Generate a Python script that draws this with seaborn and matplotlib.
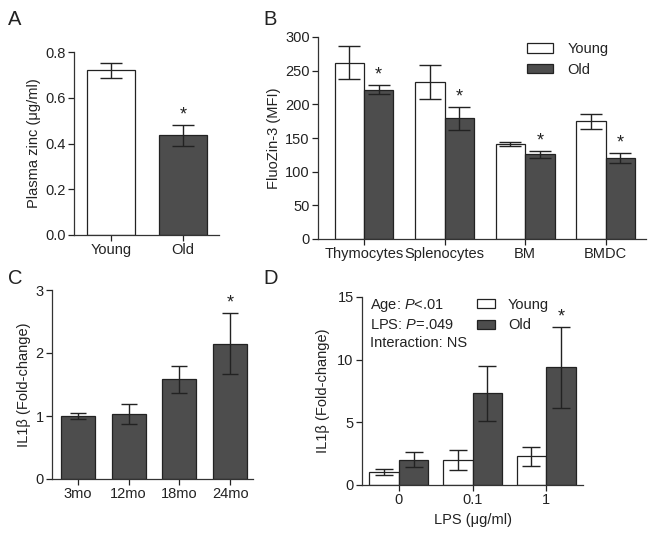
import numpy as np
import pandas as pd
import matplotlib
matplotlib.use("Agg")
import matplotlib.pyplot as plt
import seaborn as sns
from matplotlib.patches import Patch

# ---------------- data ----------------
A_groups = ["Young", "Old"]
A_mean = [0.72, 0.435]
A_err = [0.033, 0.047]

B_cells = ["Thymocytes", "Splenocytes", "BM", "BMDC"]
B_young = [262, 233, 141, 175]
B_young_err = [24, 25, 3, 11]
B_old = [222, 179, 125.5, 120.5]
B_old_err = [7, 17, 5, 7.5]

C_ages = ["3mo", "12mo", "18mo", "24mo"]
C_mean = [1.0, 1.03, 1.58, 2.15]
C_err = [0.055, 0.16, 0.215, 0.49]

D_lps = ["0", "0.1", "1"]
D_young = [1.0, 2.0, 2.29]
D_young_err = [0.24, 0.82, 0.78]
D_old = [2.0, 7.33, 9.38]
D_old_err = [0.6, 2.2, 3.2]

# ---------------- style ----------------
sns.set_theme(style="ticks")
plt.rcParams["font.family"] = ["Liberation Sans", "DejaVu Sans"]
plt.rcParams["mathtext.fontset"] = "custom"
plt.rcParams["mathtext.it"] = "Liberation Sans:italic"
plt.rcParams["mathtext.rm"] = "Liberation Sans"
FS = 10.5
TXT = "#222222"
DARK = "#4d4d4d"
plt.rcParams.update({
    "axes.linewidth": 0.9,
    "xtick.major.width": 0.9, "ytick.major.width": 0.9,
    "xtick.major.size": 4, "ytick.major.size": 4,
    "xtick.labelsize": FS, "ytick.labelsize": FS,
    "axes.labelsize": FS,
    "text.color": TXT, "axes.labelcolor": TXT,
    "xtick.color": TXT, "ytick.color": TXT,
    "axes.edgecolor": "#333333",
})

W, H = 654, 537
fig = plt.figure(figsize=(W / 100, H / 100), dpi=100)

def add_ax(l, r, t, b):
    return fig.add_axes([l / W, 1 - b / H, (r - l) / W, (b - t) / H])

axA = add_ax(74, 219, 52, 235)
axB = add_ax(318, 646, 37, 239)
axC = add_ax(52, 253, 290, 479)
axD = add_ax(362, 583, 297, 485)

def errbars(ax, xs, ys, es, cap):
    ax.errorbar(xs, ys, yerr=es, fmt="none", ecolor="#222222",
                elinewidth=1.0, capsize=cap, capthick=1.0, zorder=5)

def star(ax, x, y):
    ax.annotate("*", (x, y), xytext=(0, 1), textcoords="offset points",
                ha="center", va="bottom", fontsize=13, color=TXT)

# ---------------- Panel A ----------------
dfA = pd.DataFrame({"group": A_groups, "val": A_mean})
sns.barplot(data=dfA, x="group", y="val", hue="group", ax=axA,
            palette=["white", DARK], edgecolor="#222222", linewidth=0.9,
            width=0.67, legend=False, errorbar=None)
xsA = [p.get_x() + p.get_width() / 2 for p in axA.patches]
errbars(axA, xsA, A_mean, A_err, 8)
star(axA, xsA[1], A_mean[1] + A_err[1])
axA.set_ylim(0, 0.8)
axA.set_xlim(-0.51, 1.5)
axA.set_yticks([0, 0.2, 0.4, 0.6, 0.8])
axA.set_yticklabels(["0.0", "0.2", "0.4", "0.6", "0.8"])
axA.set_xlabel("")
axA.set_ylabel("Plasma zinc (μg/ml)", labelpad=3)

# ---------------- Panel B ----------------
dfB = pd.DataFrame({
    "cell": B_cells * 2,
    "age": ["Young"] * 4 + ["Old"] * 4,
    "val": B_young + B_old,
})
sns.barplot(data=dfB, x="cell", y="val", hue="age", ax=axB,
            palette={"Young": "white", "Old": DARK}, edgecolor="#222222",
            linewidth=0.9, width=0.73, errorbar=None, legend=False)
bars = axB.patches
xsBy = [p.get_x() + p.get_width() / 2 for p in bars[:4]]
xsBo = [p.get_x() + p.get_width() / 2 for p in bars[4:8]]
errbars(axB, xsBy, B_young, B_young_err, 7.8)
errbars(axB, xsBo, B_old, B_old_err, 7.8)
for x, v, e in zip(xsBo, B_old, B_old_err):
    star(axB, x, v + e)
axB.set_ylim(0, 300)
axB.set_xlim(-0.57, 3.5)
axB.set_yticks(range(0, 301, 50))
axB.set_xlabel("")
axB.set_ylabel("FluoZin-3 (MFI)", labelpad=3)
hB = [Patch(facecolor="white", edgecolor="#222222", linewidth=0.9),
      Patch(facecolor=DARK, edgecolor="#222222", linewidth=0.9)]
axB.legend(hB, ["Young", "Old"], frameon=False, fontsize=FS,
           handlelength=1.75, handleheight=0.6, handletextpad=1.0,
           labelspacing=0.45, loc="upper left",
           bbox_to_anchor=((514 - 318) / 328, 1.04))

# ---------------- Panel C ----------------
dfC = pd.DataFrame({"age": C_ages, "val": C_mean})
sns.barplot(data=dfC, x="age", y="val", ax=axC, color=DARK,
            edgecolor="#222222", linewidth=0.9, width=0.67, errorbar=None)
for p in axC.patches:
    p.set_facecolor(DARK)
xsC = [p.get_x() + p.get_width() / 2 for p in axC.patches]
errbars(axC, xsC, C_mean, C_err, 6)
star(axC, xsC[3], C_mean[3] + C_err[3])
axC.set_ylim(0, 3)
axC.set_xlim(-0.51, 3.45)
axC.set_yticks([0, 1, 2, 3])
axC.set_xlabel("")
axC.set_ylabel("IL1β (Fold-change)", labelpad=3)

# ---------------- Panel D ----------------
dfD = pd.DataFrame({
    "lps": D_lps * 2,
    "age": ["Young"] * 3 + ["Old"] * 3,
    "val": D_young + D_old,
})
sns.barplot(data=dfD, x="lps", y="val", hue="age", ax=axD,
            palette={"Young": "white", "Old": DARK}, edgecolor="#222222",
            linewidth=0.9, width=0.8, errorbar=None, legend=False)
bars = axD.patches
xsDy = [p.get_x() + p.get_width() / 2 for p in bars[:3]]
xsDo = [p.get_x() + p.get_width() / 2 for p in bars[3:6]]
errbars(axD, xsDy, D_young, D_young_err, 6.5)
errbars(axD, xsDo, D_old, D_old_err, 6.5)
star(axD, xsDo[2], D_old[2] + D_old_err[2])
axD.set_ylim(0, 15)
axD.set_xlim(-0.5, 2.5)
axD.set_yticks([0, 5, 10, 15])
axD.set_xlabel("LPS (μg/ml)", labelpad=4)
axD.set_ylabel("IL1β (Fold-change)", labelpad=5)
axD.text(0.035, 1.0, "Age: $P$<.01\nLPS: $P$=.049\nInteraction: NS",
         transform=axD.transAxes, ha="left", va="top", fontsize=FS,
         linespacing=1.35)
hD = [Patch(facecolor="white", edgecolor="#222222", linewidth=0.9),
      Patch(facecolor=DARK, edgecolor="#222222", linewidth=0.9)]
axD.legend(hD, ["Young", "Old"], frameon=False, fontsize=FS,
           handlelength=1.2, handleheight=0.55, handletextpad=0.9,
           labelspacing=0.45, loc="upper left",
           bbox_to_anchor=((464 - 362) / 221, 1.065))

for ax in (axA, axB, axC, axD):
    sns.despine(ax=ax)
    ax.tick_params(axis="both", direction="out", length=4, pad=2)

# panel letters
for lab, x, y in [("A", 8, 25), ("B", 263, 25), ("C", 8, 284), ("D", 263, 284)]:
    fig.text(x / W, 1 - y / H, lab, fontsize=14.5, color=TXT,
             ha="left", va="baseline")

fig.savefig("out.png", dpi=100)
